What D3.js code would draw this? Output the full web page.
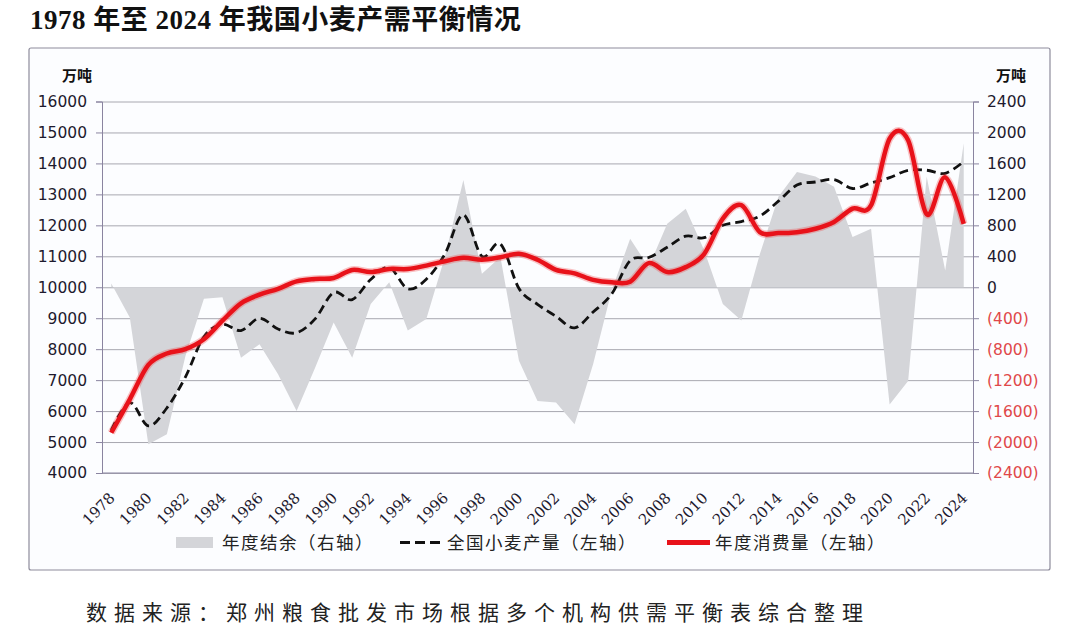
<!DOCTYPE html>
<html>
<head>
<meta charset="utf-8">
<script src="https://cdn.jsdelivr.net/npm/d3@7"></script>
<style>
  body { margin: 0; background: #fff; }
  svg { display: block; }
</style>
</head>
<body>
<svg id="chart" width="1088" height="634"></svg>
<script>
var years = d3.range(1978, 2025);

// 全国小麦产量（左轴，万吨）
var production = [5384, 6273, 5521, 6100, 7100, 8400, 8800, 8600, 9000, 8650, 8530, 8980,
  9830, 9600, 10250, 10640, 9950, 10260, 11070, 12340, 11000, 11400, 9960, 9450,
  9060, 8690, 9200, 9780, 10860, 10960, 11290, 11650, 11600, 12000, 12120, 12300,
  12780, 13300, 13400, 13480, 13190, 13370, 13540, 13780, 13780, 13680, 14060];

// 年度消费量（左轴，万吨）
var consumption = [5300, 6380, 7490, 7860, 8000, 8320, 8920, 9480, 9760, 9950, 10190, 10270,
  10300, 10560, 10490, 10590, 10590, 10700, 10840, 10950, 10890, 10970, 11080, 10890,
  10560, 10450, 10240, 10160, 10180, 10780, 10490, 10650, 11080, 12220, 12650, 11780,
  11750, 11780, 11890, 12110, 12540, 12650, 14800, 14750, 12360, 13550, 12050];

// 年度结余（右轴，万吨）
var balance = [50, -390, -2030, -1900, -890, -150, -130, -910, -735, -1125, -1600, -1040,
  -455, -910, -215, 65, -560, -410, 390, 1385, 173, 390, -950, -1470,
  -1490, -1770, -995, -45, 627, 260, 820, 1015, 475, -215, -430, 430,
  1170, 1490, 1430, 1300, 650, 755, -1515, -1210, 1430, 215, 1860];

var leftTicks = d3.range(4000, 16001, 1000);
var rightTicks = d3.range(-2400, 2401, 400);
var xLabelYears = years.filter(y => (y - 1978) % 2 === 0);

var legendItems = ['年度结余（右轴）', '全国小麦产量（左轴）', '年度消费量（左轴）'];

var svg = d3.select('#chart');
var plotLeft = 102, plotRight = 973, plotTop = 101.5, plotBottom = 473;

var xScale = d3.scalePoint()
  .domain(years)
  .range([plotLeft, plotRight])
  .padding(0.5);
var yLeft = d3.scaleLinear()
  .domain([4000, 16000])
  .range([plotBottom, plotTop]);
var yRight = d3.scaleLinear()
  .domain([-2400, 2400])
  .range([plotBottom, plotTop]);

// frame
svg.append('rect')
  .attr('x', 29).attr('y', 48)
  .attr('width', 1021).attr('height', 522)
  .attr('rx', 2)
  .attr('fill', '#fcfdff')
  .attr('stroke', '#8e8c9c')
  .attr('stroke-width', 1.2);

// title
svg.append('text')
  .attr('x', 30).attr('y', 29)
  .attr('font-family', '"Liberation Serif", "Noto Sans CJK SC", serif')
  .attr('font-weight', 'bold')
  .attr('font-size', 27)
  .attr('letter-spacing', 0.5)
  .attr('fill', '#111')
  .text('1978 年至 2024 年我国小麦产需平衡情况');

// gridlines
var grid = d3.axisLeft(yLeft)
  .tickValues(leftTicks)
  .tickSize(-(plotRight - plotLeft))
  .tickFormat('');
svg.append('g')
  .attr('transform', `translate(${plotLeft},0)`)
  .call(grid)
  .call(g => g.select('.domain').remove())
  .call(g => g.selectAll('line').attr('stroke', '#a8a8b0').attr('stroke-width', 1));

// balance area
var area = d3.area()
  .x((d, i) => xScale(years[i]))
  .y0(yRight(0))
  .y1(d => yRight(d));
svg.append('path')
  .datum(balance)
  .attr('d', area)
  .attr('fill', '#d4d5d9');

// production dashed
var lineL = d3.line()
  .x((d, i) => xScale(years[i]))
  .y(d => yLeft(d))
  .curve(d3.curveCatmullRom.alpha(0));
svg.append('path')
  .datum(production)
  .attr('d', lineL)
  .attr('fill', 'none')
  .attr('stroke', '#111')
  .attr('stroke-width', 2.8)
  .attr('stroke-dasharray', '9,5');

// consumption red
svg.append('path')
  .datum(consumption)
  .attr('d', lineL)
  .attr('fill', 'none')
  .attr('stroke', 'rgba(240,60,60,0.3)')
  .attr('stroke-width', 7.5);
svg.append('path')
  .datum(consumption)
  .attr('d', lineL)
  .attr('fill', 'none')
  .attr('stroke', '#e8121a')
  .attr('stroke-width', 4.5);

// left axis
var leftAxis = d3.axisLeft(yLeft)
  .tickValues(leftTicks)
  .tickSize(6)
  .tickPadding(9)
  .tickFormat(d3.format('d'));
svg.append('g')
  .attr('transform', `translate(${plotLeft},0)`)
  .call(leftAxis)
  .call(g => g.select('.domain').attr('stroke', '#8a84a0'))
  .call(g => g.selectAll('line').attr('stroke', '#8a84a0'))
  .call(g => g.selectAll('text')
    .attr('font-size', 15.5)
    .attr('font-family', '"DejaVu Sans", sans-serif')
    .attr('fill', '#1e1a2e'));

// right axis
var rightAxis = d3.axisRight(yRight)
  .tickValues(rightTicks)
  .tickSize(6)
  .tickPadding(8)
  .tickFormat(d => d < 0 ? '(' + (-d) + ')' : d);
svg.append('g')
  .attr('transform', `translate(${plotRight},0)`)
  .call(rightAxis)
  .call(g => g.select('.domain').attr('stroke', '#8a84a0'))
  .call(g => g.selectAll('line').attr('stroke', '#8a84a0'))
  .call(g => g.selectAll('text')
    .attr('font-size', 15.5)
    .attr('font-family', '"DejaVu Sans", sans-serif')
    .attr('fill', d => d < 0 ? '#e0484a' : '#1e1a2e'));

// bottom axis line
svg.append('line')
  .attr('x1', plotLeft).attr('x2', plotRight)
  .attr('y1', plotBottom).attr('y2', plotBottom)
  .attr('stroke', '#8a84a0');

// x labels
var xAxis = d3.axisBottom(xScale)
  .tickValues(xLabelYears)
  .tickSize(0)
  .tickPadding(0);
svg.append('g')
  .attr('transform', `translate(0,${plotBottom})`)
  .call(xAxis)
  .call(g => g.select('.domain').remove())
  .call(g => g.selectAll('text')
    .attr('font-size', 15)
    .attr('font-family', '"DejaVu Serif", serif')
    .attr('fill', '#1e1a2e')
    .attr('text-anchor', 'end')
    .attr('dy', null)
    .attr('y', 0)
    .attr('transform', 'translate(4,26) rotate(-45)'));

// units
svg.append('text')
  .attr('x', 77).attr('y', 81)
  .attr('text-anchor', 'middle')
  .attr('font-family', '"Noto Sans CJK SC", sans-serif')
  .attr('font-weight', 'bold')
  .attr('font-size', 15)
  .attr('fill', '#111')
  .text('万吨');
svg.append('text')
  .attr('x', 1011).attr('y', 81)
  .attr('text-anchor', 'middle')
  .attr('font-family', '"Noto Sans CJK SC", sans-serif')
  .attr('font-weight', 'bold')
  .attr('font-size', 15)
  .attr('fill', '#111')
  .text('万吨');

// legend
var legend = svg.append('g')
  .attr('font-family', '"Noto Sans CJK SC", sans-serif')
  .attr('font-size', 17.5)
  .attr('fill', '#222');
legend.append('rect')
  .attr('x', 176).attr('y', 537)
  .attr('width', 37).attr('height', 11)
  .attr('fill', '#d4d5d9');
legend.append('line')
  .attr('x1', 400).attr('x2', 443)
  .attr('y1', 542.5).attr('y2', 542.5)
  .attr('stroke', '#111')
  .attr('stroke-width', 3)
  .attr('stroke-dasharray', '10,5');
legend.append('line')
  .attr('x1', 667).attr('x2', 710)
  .attr('y1', 542.5).attr('y2', 542.5)
  .attr('stroke', '#e8121a')
  .attr('stroke-width', 5);
legend.selectAll('text.lg')
  .data(legendItems)
  .enter()
  .append('text')
  .attr('class', 'lg')
  .attr('x', (d, i) => [222, 447, 715][i])
  .attr('y', 548.5)
  .attr('letter-spacing', 1.5)
  .text(d => d);

// source
svg.append('text')
  .attr('x', 86).attr('y', 620)
  .attr('font-family', '"Noto Sans CJK SC", sans-serif')
  .attr('font-size', 21)
  .attr('letter-spacing', 7)
  .attr('fill', '#222')
  .text('数据来源：郑州粮食批发市场根据多个机构供需平衡表综合整理');
</script>
</body>
</html>
